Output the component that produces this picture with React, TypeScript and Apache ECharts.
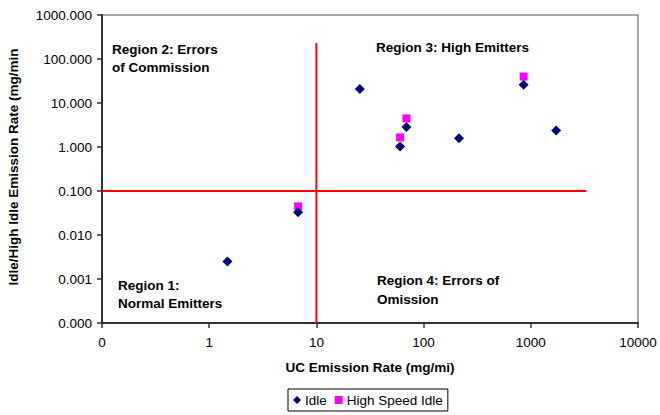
import React, { useEffect, useRef } from "react";
import * as echarts from "echarts";

// Idle emission measurements (UC rate in mg/mi vs. idle rate in mg/min)
const idleUC = [1.48, 6.75, 25.4, 60.3, 69.2, 214, 857, 1726];
const idleRate = [0.0025, 0.0327, 20.8, 1.03, 2.85, 1.59, 26, 2.38];

// High speed idle measurements
const hsiUC = [6.75, 60.3, 69.2, 857];
const hsiRate = [0.0447, 1.65, 4.47, 40];

// Cut-point lines separating the four regions
const ucCutPoint = 10;
const idleCutPoint = 0.1;
const verticalCutSpan = [0.0001, 230];
const horizontalCutSpan = [0.1, 3300];

// Decade tick labels, lowest decade first
const xTickLabels = ["0", "1", "10", "100", "1000", "10000"];
const yTickLabels = ["0.000", "0.001", "0.010", "0.100", "1.000", "10.000", "100.000", "1000.000"];
const xMinExp = -1;
const yMinExp = -4;

const FONT = "'Liberation Sans', Arial, sans-serif";

export default function App() {
  const ref = useRef<HTMLDivElement>(null);

  useEffect(() => {
    if (!ref.current) return;
    const chart = echarts.init(ref.current, undefined, { renderer: "svg" });

    const idleData = idleUC.map((x, i) => [x, idleRate[i]]);
    const hsiData = hsiUC.map((x, i) => [x, hsiRate[i]]);

    const regionText = (text: string, x: number, y: number, lh: number) => ({
      type: "text",
      x,
      y,
      style: {
        text,
        fill: "#000",
        font: `bold 13.5px ${FONT}`,
        lineHeight: lh,
        textAlign: "left",
        textVerticalAlign: "top",
      },
      z: 10,
    });

    chart.setOption({
      animation: false,
      backgroundColor: "#fff",
      textStyle: { fontFamily: FONT },
      grid: {
        left: 102,
        top: 15,
        width: 536,
        height: 308,
        show: true,
        borderColor: "#8c8c8c",
        borderWidth: 1.5,
        backgroundColor: "transparent",
      },
      xAxis: {
        type: "log",
        logBase: 10,
        min: 0.1,
        max: 10000,
        axisLine: { show: true, onZero: false, lineStyle: { color: "#333", width: 2 } },
        axisTick: { show: true, inside: false, length: 5, lineStyle: { color: "#333", width: 1.5 } },
        minorTick: { show: false },
        splitLine: { show: false },
        axisLabel: {
          color: "#000",
          fontSize: 13.5,
          fontFamily: FONT,
          margin: 12,
          formatter: (v: number) => xTickLabels[Math.round(Math.log10(v)) - xMinExp] ?? "",
        },
      },
      yAxis: {
        type: "log",
        logBase: 10,
        min: 0.0001,
        max: 1000,
        axisLine: { show: true, onZero: false, lineStyle: { color: "#333", width: 2 } },
        axisTick: { show: true, inside: false, length: 5, lineStyle: { color: "#333", width: 1.5 } },
        minorTick: { show: false },
        splitLine: { show: false },
        axisLabel: {
          color: "#000",
          fontSize: 13.5,
          fontFamily: FONT,
          margin: 10,
          formatter: (v: number) => yTickLabels[Math.round(Math.log10(v)) - yMinExp] ?? "",
        },
      },
      legend: {
        left: 288,
        top: 389,
        orient: "horizontal",
        padding: [4, 5],
        itemGap: 8,
        itemWidth: 8,
        itemHeight: 8,
        borderColor: "#000",
        borderWidth: 1,
        textStyle: { color: "#000", fontSize: 13.5, fontFamily: FONT, padding: [0, 0, 0, -1] },
        data: [
          { name: "Idle", icon: "diamond" },
          { name: "High Speed Idle", icon: "rect" },
        ],
      },
      graphic: [
        regionText("Region 2: Errors\nof Commission", 112, 40, 18),
        regionText("Region 3: High Emitters", 376, 38, 18),
        regionText("Region 1:\nNormal Emitters", 118, 277, 17.5),
        regionText("Region 4: Errors of\nOmission", 377, 271, 19),
        {
          type: "text",
          x: 370,
          y: 367,
          style: {
            text: "UC Emission Rate (mg/mi)",
            fill: "#000",
            font: `bold 13.5px ${FONT}`,
            textAlign: "center",
            textVerticalAlign: "middle",
          },
        },
        {
          type: "text",
          x: 13,
          y: 167,
          rotation: Math.PI / 2,
          style: {
            text: "Idle/High Idle Emission Rate (mg/min",
            fill: "#000",
            font: `bold 13.5px ${FONT}`,
            textAlign: "center",
            textVerticalAlign: "middle",
          },
        },
      ],
      series: [
        {
          name: "UC cut point",
          type: "line",
          data: verticalCutSpan.map((y) => [ucCutPoint, y]),
          symbol: "none",
          lineStyle: { color: "#ff0000", width: 2 },
          silent: true,
          z: 1,
        },
        {
          name: "Idle cut point",
          type: "line",
          data: horizontalCutSpan.map((x) => [x, idleCutPoint]),
          symbol: "none",
          lineStyle: { color: "#ff0000", width: 2 },
          silent: true,
          z: 1,
        },
        {
          name: "High Speed Idle",
          type: "scatter",
          symbol: "rect",
          symbolSize: 8,
          itemStyle: { color: "#ff00ff", opacity: 1 },
          data: hsiData,
          z: 3,
        },
        {
          name: "Idle",
          type: "scatter",
          symbol: "diamond",
          symbolSize: 10,
          itemStyle: { color: "#000080", opacity: 1 },
          data: idleData,
          z: 4,
        },
      ],
    });

    return () => chart.dispose();
  }, []);

  return (
    <div
      ref={ref}
      style={{ position: "fixed", left: 0, top: 0, width: 660, height: 415, background: "#fff" }}
    />
  );
}
